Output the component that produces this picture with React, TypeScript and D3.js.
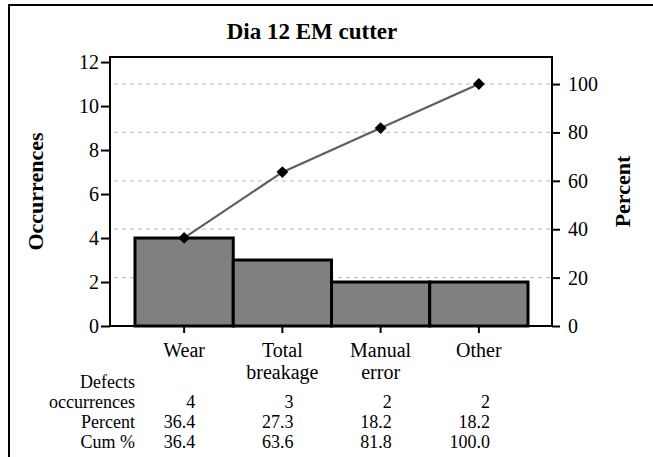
import { useEffect, useRef } from 'react';
import * as d3 from 'd3';

// Pareto data
const categories = ['Wear', 'Total breakage', 'Manual error', 'Other'];
const categoryLines = [['Wear'], ['Total', 'breakage'], ['Manual', 'error'], ['Other']];
const occurrences = [4, 3, 2, 2];
const percents = ['36.4', '27.3', '18.2', '18.2'];
const cumPercents = [36.4, 63.6, 81.8, 100.0];
const cumLabels = ['36.4', '63.6', '81.8', '100.0'];
const leftTicks = [0, 2, 4, 6, 8, 10, 12];
const rightTicks = [0, 20, 40, 60, 80, 100];
const tableRows = ['occurrences', 'Percent', 'Cum %'];

const W = 653;
const H = 457;
const FONT = '"Liberation Serif", "Times New Roman", serif';

export default function App() {
    const svgRef = useRef<SVGSVGElement>(null);

    useEffect(() => {
        const svg = d3.select(svgRef.current);
        svg.selectAll('*').remove();

        const plot = { left: 110, right: 552, top: 57, bottom: 326 };
        const yMax = 12.23;
        const total = d3.sum(occurrences);

        const x = d3.scaleBand<string>()
            .domain(categories)
            .range([135, 528])
            .padding(0);

        const y = d3.scaleLinear().domain([0, yMax]).range([plot.bottom, plot.top]);
        const yPct = d3.scaleLinear()
            .domain([0, (yMax / total) * 100])
            .range([plot.bottom, plot.top]);

        // outer frame (open on right and bottom, as in the picture)
        svg.append('path')
            .attr('d', `M9,${H} L9,5 L${W},5`)
            .attr('fill', 'none')
            .attr('stroke', '#000')
            .attr('stroke-width', 2);

        // title
        svg.append('text')
            .attr('x', 312)
            .attr('y', 39)
            .attr('text-anchor', 'middle')
            .style('font-family', FONT)
            .style('font-weight', 'bold')
            .style('font-size', '23px')
            .text('Dia 12 EM cutter');

        // gridlines at the percent ticks
        svg.append('g')
            .selectAll('line')
            .data(rightTicks.filter(d => d > 0))
            .join('line')
            .attr('x1', plot.left + 4)
            .attr('x2', plot.right - 2)
            .attr('y1', d => yPct(d))
            .attr('y2', d => yPct(d))
            .attr('stroke', '#c8c8c8')
            .attr('stroke-width', 1.3)
            .attr('stroke-dasharray', '4,4');

        // bars
        svg.append('g')
            .selectAll('rect')
            .data(occurrences)
            .join('rect')
            .attr('x', (d, i) => x(categories[i]))
            .attr('y', d => y(d))
            .attr('width', x.bandwidth())
            .attr('height', d => y(0) - y(d))
            .attr('fill', '#808080')
            .attr('stroke', '#000')
            .attr('stroke-width', 3);

        // cumulative line
        const line = d3.line<number>()
            .x((d, i) => x(categories[i]) + x.bandwidth() / 2)
            .y(d => yPct(d));

        svg.append('path')
            .datum(cumPercents)
            .attr('d', line)
            .attr('fill', 'none')
            .attr('stroke', '#5e5e5e')
            .attr('stroke-width', 2.2);

        svg.append('g')
            .selectAll('path')
            .data(cumPercents)
            .join('path')
            .attr('transform', (d, i) => `translate(${x(categories[i]) + x.bandwidth() / 2},${yPct(d)})`)
            .attr('d', d3.symbol().type(d3.symbolDiamond2).size(90))
            .attr('fill', '#000');

        // plot box
        svg.append('rect')
            .attr('x', plot.left)
            .attr('y', plot.top)
            .attr('width', plot.right - plot.left)
            .attr('height', plot.bottom - plot.top)
            .attr('fill', 'none')
            .attr('stroke', '#000')
            .attr('stroke-width', 2);

        // left axis
        const gl = svg.append('g')
            .attr('transform', `translate(${plot.left},0)`)
            .call(d3.axisLeft(y).tickValues(leftTicks).tickSize(9).tickPadding(2));
        gl.select('.domain').remove();
        gl.selectAll('line').attr('stroke-width', 2);
        gl.selectAll('text')
            .style('font-family', FONT)
            .style('font-size', '20px')
            .attr('fill', '#000');

        // right axis
        const gr = svg.append('g')
            .attr('transform', `translate(${plot.right},0)`)
            .call(d3.axisRight(yPct).tickValues(rightTicks).tickSize(8).tickPadding(8));
        gr.select('.domain').remove();
        gr.selectAll('line').attr('stroke-width', 2);
        gr.selectAll('text')
            .style('font-family', FONT)
            .style('font-size', '20px')
            .attr('fill', '#000');

        // bottom axis ticks
        const gb = svg.append('g')
            .attr('transform', `translate(0,${plot.bottom})`)
            .call(d3.axisBottom(x).tickSize(7).tickFormat(() => ''));
        gb.select('.domain').remove();
        gb.selectAll('line').attr('stroke-width', 2);

        // category labels (two lines)
        const cat = svg.append('g')
            .selectAll('text')
            .data(categories)
            .join('text')
            .attr('x', d => x(d) + x.bandwidth() / 2)
            .attr('y', 357)
            .attr('text-anchor', 'middle')
            .style('font-family', FONT)
            .style('font-size', '20px');
        cat.selectAll('tspan')
            .data((d, i) => categoryLines[i])
            .join('tspan')
            .attr('x', function () {
                return (this.parentNode as SVGTextElement).getAttribute('x');
            })
            .attr('dy', (d, i) => (i === 0 ? 0 : 22))
            .text(d => d);

        // axis titles
        svg.append('text')
            .attr('transform', `translate(43,${(plot.top + plot.bottom) / 2}) rotate(-90)`)
            .attr('text-anchor', 'middle')
            .style('font-family', FONT)
            .style('font-weight', 'bold')
            .style('font-size', '22px')
            .text('Occurrences');

        svg.append('text')
            .attr('transform', `translate(630,${(plot.top + plot.bottom) / 2}) rotate(-90)`)
            .attr('text-anchor', 'middle')
            .style('font-family', FONT)
            .style('font-weight', 'bold')
            .style('font-size', '22px')
            .text('Percent');

        // data table below the chart
        const table = svg.append('g')
            .style('font-family', FONT)
            .style('font-size', '18px');

        table.append('text')
            .attr('x', 135)
            .attr('y', 388)
            .attr('text-anchor', 'end')
            .text('Defects');

        const rowY = [408, 428, 448];
        table.selectAll('text.row')
            .data(tableRows)
            .join('text')
            .attr('class', 'row')
            .attr('x', 135)
            .attr('y', (d, i) => rowY[i])
            .attr('text-anchor', 'end')
            .text(d => d);

        const rows = [occurrences.map(String), percents, cumLabels];
        rows.forEach((vals, r) => {
            table.selectAll(`text.v${r}`)
                .data(vals)
                .join('text')
                .attr('class', `v${r}`)
                .attr('x', (d, i) => x(categories[i]) + x.bandwidth() / 2 + 11)
                .attr('y', rowY[r])
                .attr('text-anchor', 'end')
                .text(d => d);
        });
    }, []);

    return (
        <svg
            ref={svgRef}
            width={W}
            height={H}
            style={{ position: 'absolute', left: 0, top: 0, background: '#fff', display: 'block', fontFamily: FONT }}
        />
    );
}
